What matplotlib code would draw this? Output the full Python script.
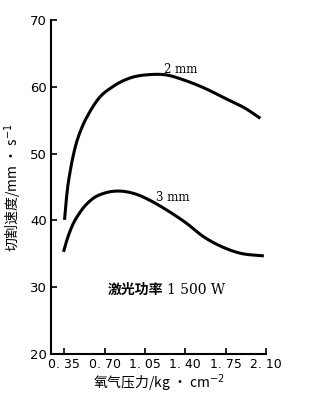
import numpy as np
import matplotlib
matplotlib.use("Agg")
import matplotlib.pyplot as plt

plt.rcParams['font.family'] = ['Noto Sans CJK SC', 'DejaVu Sans']

# oxygen pressure (kg/cm^2) vs cutting speed (mm/s)
p_2mm = [0.353, 0.374, 0.403, 0.446, 0.505, 0.563, 0.650, 0.767, 0.913, 1.088, 1.234, 1.394, 1.569, 1.744, 1.919, 2.05]
v_2mm = [40.1, 44.1, 47.5, 51.0, 54.0, 56.0, 58.3, 60.0, 61.3, 61.85, 61.8, 61.0, 59.8, 58.3, 56.8, 55.3]

p_3mm = [0.344, 0.374, 0.417, 0.490, 0.592, 0.709, 0.840, 0.971, 1.117, 1.263, 1.409, 1.555, 1.700, 1.875, 2.08]
v_3mm = [35.3, 37.1, 39.1, 41.3, 43.2, 44.15, 44.4, 43.95, 42.8, 41.3, 39.6, 37.6, 36.2, 35.1, 34.7]

xticks = [0.35, 0.70, 1.05, 1.40, 1.75, 2.10]
xticklabels = ["0. 35", "0. 70", "1. 05", "1. 40", "1. 75", "2. 10"]
yticks = [20, 30, 40, 50, 60, 70]


def smooth(x, y, n=300):
    # cubic Hermite through the read points (central-difference slopes), only for a smooth stroke
    x = np.asarray(x, float)
    y = np.asarray(y, float)
    h = np.diff(x)
    m = np.gradient(y, x)
    xs = np.linspace(x[0], x[-1], n)
    k = np.clip(np.searchsorted(x, xs, side="right") - 1, 0, len(x) - 2)
    t = (xs - x[k]) / h[k]
    ys = ((2 * t**3 - 3 * t**2 + 1) * y[k] + (t**3 - 2 * t**2 + t) * h[k] * m[k]
          + (-2 * t**3 + 3 * t**2) * y[k + 1] + (t**3 - t**2) * h[k] * m[k + 1])
    return xs, ys


fig = plt.figure(figsize=(3.23, 3.96), dpi=100)
ax = fig.add_axes([0.158, 0.106, 0.666, 0.843])

x2, y2 = smooth(p_2mm, v_2mm)
x3, y3 = smooth(p_3mm, v_3mm)
ax.plot(x2, y2, color="black", lw=2.2, solid_capstyle="butt")
ax.plot(x3, y3, color="black", lw=2.2, solid_capstyle="butt")

ax.text(1.216, 62.1, "2 mm", fontsize=8.5, family="DejaVu Serif", va="baseline")
ax.text(1.146, 42.9, "3 mm", fontsize=8.5, family="DejaVu Serif", va="baseline")
ax.text(0.73, 29.6, "激光功率", fontsize=10, va="center", fontweight="bold")
ax.text(1.245, 29.6, "1 500 W", fontsize=10, family="DejaVu Serif", va="center")

ax.set_xlim(0.236, 2.10)
ax.set_ylim(20, 70)
ax.set_xticks(xticks)
ax.set_xticklabels(xticklabels, family="DejaVu Sans", fontsize=9)
ax.set_yticks(yticks)
ax.set_yticklabels([str(v) for v in yticks], family="DejaVu Sans", fontsize=9.5)
ax.tick_params(direction="in", length=4, width=1.2, pad=3)

for s in ["top", "right"]:
    ax.spines[s].set_visible(False)
for s in ["left", "bottom"]:
    ax.spines[s].set_linewidth(1.5)

ax.set_ylabel("切割速度/mm · s$^{-1}$", fontsize=10, labelpad=4)
ax.set_xlabel("氧气压力/kg · cm$^{-2}$", fontsize=10, labelpad=1)

fig.savefig("out.png", dpi=100)
